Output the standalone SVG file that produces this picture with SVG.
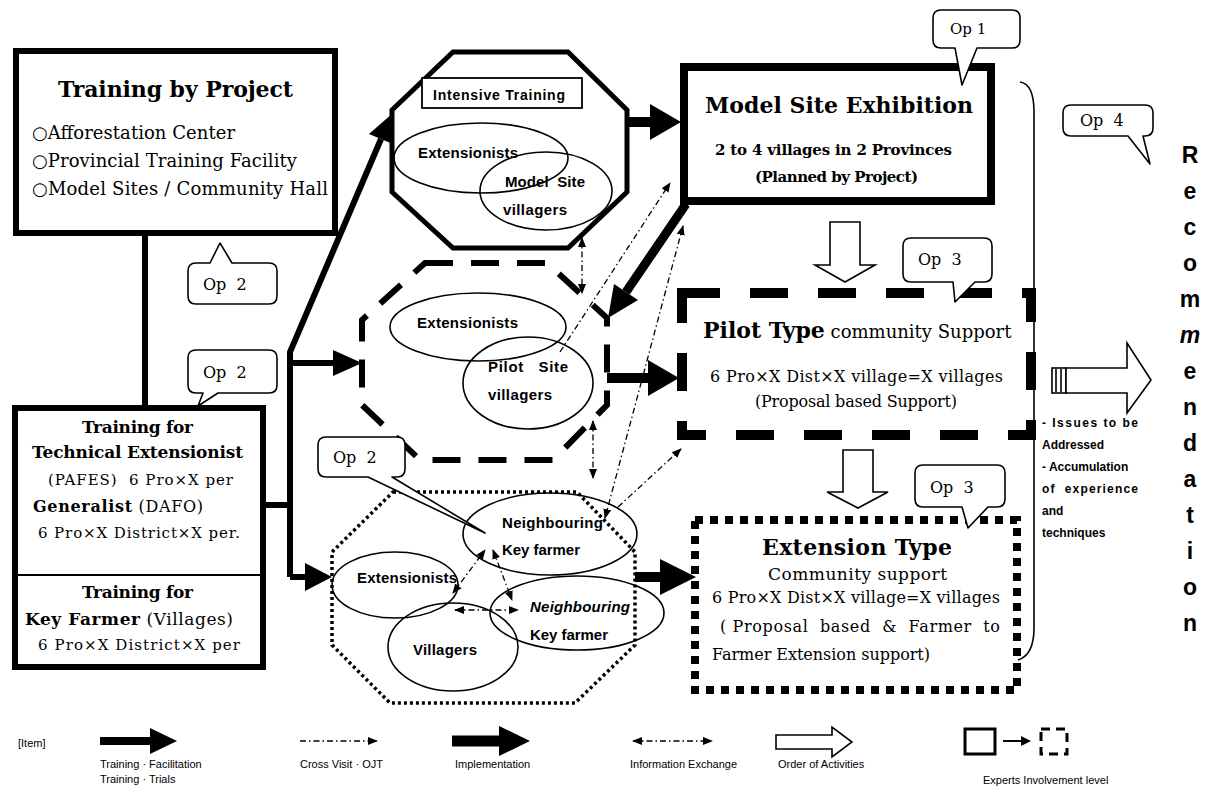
<svg xmlns="http://www.w3.org/2000/svg" width="1208" height="791" viewBox="0 0 1208 791">
<defs>
<style>
.s{font-family:"DejaVu Serif","Liberation Serif",serif;fill:#000;white-space:pre}
.b{font-weight:bold}
.ss{font-family:"Liberation Sans",Arial,sans-serif;font-weight:bold;fill:#000;white-space:pre}
.lg{font-family:"Liberation Sans",Arial,sans-serif;fill:#000;font-size:11px;white-space:pre}
.thin{fill:none;stroke:#000;stroke-width:1.6}
.dd{fill:none;stroke:#000;stroke-width:1.3;stroke-dasharray:6 3 1.5 3}
.bub{fill:#fff;stroke:#000;stroke-width:1.6;stroke-linejoin:round}
.tr{fill:none;stroke:#000;stroke-width:6}
.im{fill:none;stroke:#000;stroke-width:10}
.hd{fill:#000;stroke:none}
.hol{fill:#fff;stroke:#000;stroke-width:1.6;stroke-linejoin:miter}
</style>
<marker id="ah" viewBox="0 0 10 10" refX="9" refY="5" markerWidth="10" markerHeight="10" markerUnits="userSpaceOnUse" orient="auto-start-reverse"><path d="M0,1 L10,5 L0,9 Z" fill="#000"/></marker>
</defs>
<rect x="0" y="0" width="1208" height="791" fill="#fff"/>

<!-- connectors -->
<g id="connectors">
  <path class="tr" d="M145,233 L145,408"/>
  <path class="tr" d="M263,505 L290,505"/>
  <path class="tr" d="M290,577 L290,352 L381,139"/>
  <polygon class="hd" points="393,113 393,144 369,134"/>
  <path class="tr" d="M290,363 L336,363"/>
  <polygon class="hd" points="362,363 333,350 333,376"/>
  <path class="tr" d="M290,577 L308,577"/>
  <polygon class="hd" points="332,577 305,563 305,591"/>
  <path class="im" d="M627,122 L652,122"/>
  <polygon class="hd" points="681,122 650,104 650,140"/>
  <path class="im" d="M607,378 L650,378"/>
  <polygon class="hd" points="679,378 648,360 648,396"/>
  <path class="im" d="M635,577 L663,577"/>
  <polygon class="hd" points="696,577 660,559 660,595"/>
  <path class="im" style="stroke-width:9" d="M686,204 L626,292"/>
  <polygon class="hd" points="608,318 638,300 614,284"/>
  <line class="dd" x1="582" y1="238" x2="582" y2="293" marker-start="url(#ah)" marker-end="url(#ah)"/>
  <line class="dd" x1="593" y1="421" x2="593" y2="478" marker-start="url(#ah)" marker-end="url(#ah)"/>
  <line class="dd" x1="560" y1="352" x2="670" y2="183" marker-end="url(#ah)"/>
  <line class="dd" x1="605" y1="518" x2="683" y2="226" marker-start="url(#ah)" marker-end="url(#ah)"/>
  <line class="dd" x1="618" y1="507" x2="681" y2="449" marker-end="url(#ah)"/>
  <line class="dd" x1="453" y1="593" x2="485" y2="550" marker-start="url(#ah)" marker-end="url(#ah)"/>
  <line class="dd" x1="493" y1="550" x2="512" y2="600" marker-start="url(#ah)" marker-end="url(#ah)"/>
  <line class="dd" x1="455" y1="610" x2="518" y2="610" marker-start="url(#ah)" marker-end="url(#ah)"/>
  <path class="hol" d="M830,222 L860,222 L860,265 L875,265 L845,282 L815,265 L830,265 Z"/>
  <path class="hol" d="M843,450 L873,450 L873,492 L888,492 L858,508 L827,492 L843,492 Z"/>
</g>

<g id="training-project">
  <rect x="16" y="51" width="319" height="182" fill="#fff" stroke="#000" stroke-width="6"/>
  <text class="s b" x="58" y="97" font-size="22" textLength="235">Training by Project</text>
  <text class="s" x="32" y="139" font-size="18" textLength="203">○Afforestation Center</text>
  <text class="s" x="32" y="167" font-size="18" textLength="265">○Provincial Training Facility</text>
  <text class="s" x="32" y="195" font-size="18" textLength="296">○Model Sites / Community Hall</text>
</g>

<g id="op2-a">
  <path class="bub" d="M196,263 L210,263 L220,243 L232,263 L269,263 Q277,263 277,271 L277,296 Q277,304 269,304 L196,304 Q188,304 188,296 L188,271 Q188,263 196,263 Z"/>
  <text class="s" x="203" y="290" font-size="16">Op  2</text>
</g>

<g id="op2-b">
  <path class="bub" d="M196,350 L269,350 Q277,350 277,358 L277,385 Q277,393 269,393 L218,393 L198,406 L203,393 L196,393 Q188,393 188,385 L188,358 Q188,350 196,350 Z"/>
  <text class="s" x="203" y="378" font-size="16">Op  2</text>
</g>

<g id="training-extensionist">
  <rect x="15" y="408" width="248" height="259" fill="#fff" stroke="#000" stroke-width="6"/>
  <line x1="15" y1="575" x2="263" y2="575" stroke="#000" stroke-width="2"/>
  <text class="s b" x="82" y="433" font-size="17" textLength="111">Training for</text>
  <text class="s b" x="32" y="458" font-size="17" textLength="211">Technical Extensionist</text>
  <text class="s" x="48" y="485" font-size="15" textLength="185">(PAFES)  6 Pro×X per</text>
  <text class="s" x="33" y="512" font-size="16" textLength="170"><tspan class="b">Generalist</tspan> (DAFO)</text>
  <text class="s" x="38" y="538" font-size="15" textLength="202">6 Pro×X District×X per.</text>
  <text class="s b" x="82" y="598" font-size="17" textLength="111">Training for</text>
  <text class="s" x="25" y="625" font-size="17" textLength="208"><tspan class="b">Key Farmer</tspan> (Villages)</text>
  <text class="s" x="38" y="650" font-size="15" textLength="202">6 Pro×X District×X per</text>
</g>

<g id="intensive-training">
  <polygon points="453,52 568,52 627,110 627,192 568,248 453,248 392,192 392,110" fill="#fff" stroke="#000" stroke-width="5"/>
  <rect x="422" y="78" width="160" height="30" fill="#fff" stroke="#000" stroke-width="1.8"/>
  <text class="ss" x="433" y="100" font-size="14" textLength="132">Intensive Training</text>
  <ellipse class="thin" cx="481" cy="158" rx="87" ry="35"/>
  <ellipse class="thin" cx="546" cy="191" rx="66" ry="39"/>
  <text class="ss" x="418" y="158" font-size="15" textLength="100">Extensionists</text>
  <text class="ss" x="505" y="187" font-size="15" textLength="80">Model  Site</text>
  <text class="ss" x="503" y="215" font-size="15" textLength="64">villagers</text>
</g>

<g id="model-site">
  <rect x="684" y="67" width="307" height="134" fill="#fff" stroke="#000" stroke-width="8"/>
  <text class="s b" x="705" y="113" font-size="22" textLength="268">Model Site Exhibition</text>
  <text class="s b" x="715" y="155" font-size="15" textLength="237">2 to 4 villages in 2 Provinces</text>
  <text class="s b" x="755" y="182" font-size="15" textLength="163">(Planned by Project)</text>
</g>
<g id="op1">
  <path class="bub" d="M941,10 L1012,10 Q1020,10 1020,18 L1020,40 Q1020,48 1012,48 L977,48 L962,85 L955,48 L941,48 Q933,48 933,40 L933,18 Q933,10 941,10 Z"/>
  <text class="s" x="950" y="34" font-size="15">Op 1</text>
</g>

<g id="pilot-site">
  <polygon points="425,263 547,263 607,318 607,405 553,460 420,460 362,405 362,320" fill="none" stroke="#000" stroke-width="6" stroke-dasharray="28 18"/>
  <ellipse class="thin" cx="478" cy="327" rx="88" ry="34"/>
  <ellipse class="thin" cx="528" cy="383" rx="65" ry="46"/>
  <text class="ss" x="417" y="328" font-size="15" textLength="101">Extensionists</text>
  <text class="ss" x="488" y="372" font-size="15" textLength="80">Pilot   Site</text>
  <text class="ss" x="488" y="400" font-size="15" textLength="64">villagers</text>
</g>

<g id="pilot-type">
  <rect x="682" y="293" width="349" height="142" fill="none" stroke="#000" stroke-width="10" stroke-dasharray="38 30"/>
  <text class="s" x="703" y="338" font-size="18"><tspan class="b" font-size="22">Pilot Type</tspan> community Support</text>
  <text class="s" x="710" y="382" font-size="16" textLength="293">6 Pro×X Dist×X village=X villages</text>
  <text class="s" x="755" y="407" font-size="16" textLength="202">(Proposal based Support)</text>
</g>
<g id="op3-a">
  <path class="bub" d="M911,238 L984,238 Q992,238 992,246 L992,274 Q992,282 984,282 L975,282 L955,302 L953,282 L911,282 Q903,282 903,274 L903,246 Q903,238 911,238 Z"/>
  <text class="s" x="918" y="265" font-size="16">Op  3</text>
</g>

<g id="extension-site">
  <polygon points="393,492 577,492 635,552 635,645 575,703 390,703 332,645 332,552" fill="none" stroke="#000" stroke-width="3.5" stroke-dasharray="3 3"/>
  <ellipse class="thin" cx="395" cy="585" rx="63" ry="33"/>
  <ellipse class="thin" cx="453" cy="647" rx="65" ry="44"/>
  <ellipse class="thin" cx="550" cy="534" rx="87" ry="41"/>
  <ellipse class="thin" cx="577" cy="613" rx="87" ry="37"/>
  <text class="ss" x="357" y="583" font-size="15" textLength="100">Extensionists</text>
  <text class="ss" x="413" y="655" font-size="15" textLength="64">Villagers</text>
  <text class="ss" x="502" y="528" font-size="15" textLength="101">Neighbouring</text>
  <text class="ss" x="502" y="555" font-size="15" textLength="78">Key farmer</text>
  <text class="ss" x="530" y="612" font-size="15" font-style="italic" textLength="100">Neighbouring</text>
  <text class="ss" x="530" y="640" font-size="15" textLength="78">Key farmer</text>
</g>
<g id="op2-c">
  <path class="bub" d="M326,437 L397,437 Q405,437 405,445 L405,469 Q405,477 397,477 L392,477 L485,533 L368,477 L326,477 Q318,477 318,469 L318,445 Q318,437 326,437 Z"/>
  <text class="s" x="333" y="463" font-size="16">Op  2</text>
</g>

<g id="extension-type">
  <rect x="695" y="520" width="322" height="170" fill="none" stroke="#000" stroke-width="8" stroke-dasharray="8 7"/>
  <text class="s b" x="762" y="555" font-size="22" textLength="190">Extension Type</text>
  <text class="s" x="768" y="580" font-size="17" textLength="179">Community support</text>
  <text class="s" x="712" y="603" font-size="16" textLength="288">6 Pro×X Dist×X village=X villages</text>
  <text class="s" x="720" y="632" font-size="16" textLength="280">( Proposal  based  &amp;  Farmer  to</text>
  <text class="s" x="712" y="660" font-size="16" textLength="218">Farmer Extension support)</text>
</g>
<g id="op3-b">
  <path class="bub" d="M923,465 L997,465 Q1005,465 1005,473 L1005,499 Q1005,507 997,507 L988,507 L968,528 L962,507 L923,507 Q915,507 915,499 L915,473 Q915,465 923,465 Z"/>
  <text class="s" x="930" y="493" font-size="16">Op  3</text>
</g>

<g id="recommendation">
  <path class="thin" d="M1020,82 Q1034,84 1034,112 L1034,628 Q1034,655 1018,660"/>
  <rect x="1052" y="368" width="14" height="25" fill="#fff" stroke="#000" stroke-width="1.6"/>
  <line x1="1056" y1="369" x2="1056" y2="392" stroke="#000" stroke-width="1.6"/>
  <line x1="1061" y1="369" x2="1061" y2="392" stroke="#000" stroke-width="1.6"/>
  <path class="hol" d="M1066,368 L1127,368 L1127,343 L1151,380 L1127,413 L1127,393 L1066,393 Z"/>
  <text class="ss" font-size="12" x="1042" y="427" textLength="96">- Issues to be</text>
  <text class="ss" font-size="12" x="1042" y="449">Addressed</text>
  <text class="ss" font-size="12" x="1042" y="471">- Accumulation</text>
  <text class="ss" font-size="12" x="1042" y="493" textLength="96">of  experience</text>
  <text class="ss" font-size="12" x="1042" y="515">and</text>
  <text class="ss" font-size="12" x="1042" y="537">techniques</text>
  <g class="ss" font-size="23" text-anchor="middle">
    <text x="1190" y="163">R</text>
    <text x="1190" y="199">e</text>
    <text x="1190" y="235">c</text>
    <text x="1190" y="271">o</text>
    <text x="1190" y="307">m</text>
    <text x="1190" y="343" font-style="italic">m</text>
    <text x="1190" y="379">e</text>
    <text x="1190" y="415">n</text>
    <text x="1190" y="451">d</text>
    <text x="1190" y="487">a</text>
    <text x="1190" y="523">t</text>
    <text x="1190" y="559">i</text>
    <text x="1190" y="595">o</text>
    <text x="1190" y="631">n</text>
  </g>
</g>
<g id="op4">
  <path class="bub" d="M1071,105 L1145,105 Q1153,105 1153,113 L1153,128 Q1153,136 1145,136 L1143,136 L1150,164 L1128,136 L1071,136 Q1063,136 1063,128 L1063,113 Q1063,105 1071,105 Z"/>
  <text class="s" x="1080" y="126" font-size="16">Op  4</text>
</g>

<g id="legend">
  <text class="lg" x="18" y="747">[Item]</text>
  <path d="M100,741 L151,741" stroke="#000" stroke-width="8"/>
  <polygon class="hd" points="177,741 150,728 150,754"/>
  <text class="lg" x="100" y="768" font-size="10.5">Training · Facilitation</text>
  <text class="lg" x="100" y="783" font-size="10.5">Training · Trials</text>
  <line class="dd" x1="300" y1="741" x2="377" y2="741" marker-end="url(#ah)"/>
  <text class="lg" x="300" y="768" font-size="10.5">Cross Visit · OJT</text>
  <path d="M452,741 L500,741" stroke="#000" stroke-width="11"/>
  <polygon class="hd" points="530,741 499,726 499,756"/>
  <text class="lg" x="455" y="768" font-size="10.5">Implementation</text>
  <line class="dd" x1="633" y1="741" x2="712" y2="741" marker-start="url(#ah)" marker-end="url(#ah)"/>
  <text class="lg" x="630" y="768" font-size="10.5">Information Exchange</text>
  <path class="hol" d="M776,735 L832,735 L832,727 L852,742 L832,757 L832,749 L776,749 Z"/>
  <text class="lg" x="778" y="768" font-size="10.5">Order of Activities</text>
  <rect x="965" y="729" width="30" height="25" fill="none" stroke="#000" stroke-width="3"/>
  <line x1="1003" y1="741" x2="1022" y2="741" stroke="#000" stroke-width="2"/>
  <polygon class="hd" points="1031,741 1021,736 1021,746"/>
  <rect x="1041" y="729" width="26" height="25" fill="none" stroke="#000" stroke-width="3" stroke-dasharray="9 6"/>
  <text class="lg" x="983" y="784" font-size="10.5">Experts Involvement level</text>
</g>
</svg>
